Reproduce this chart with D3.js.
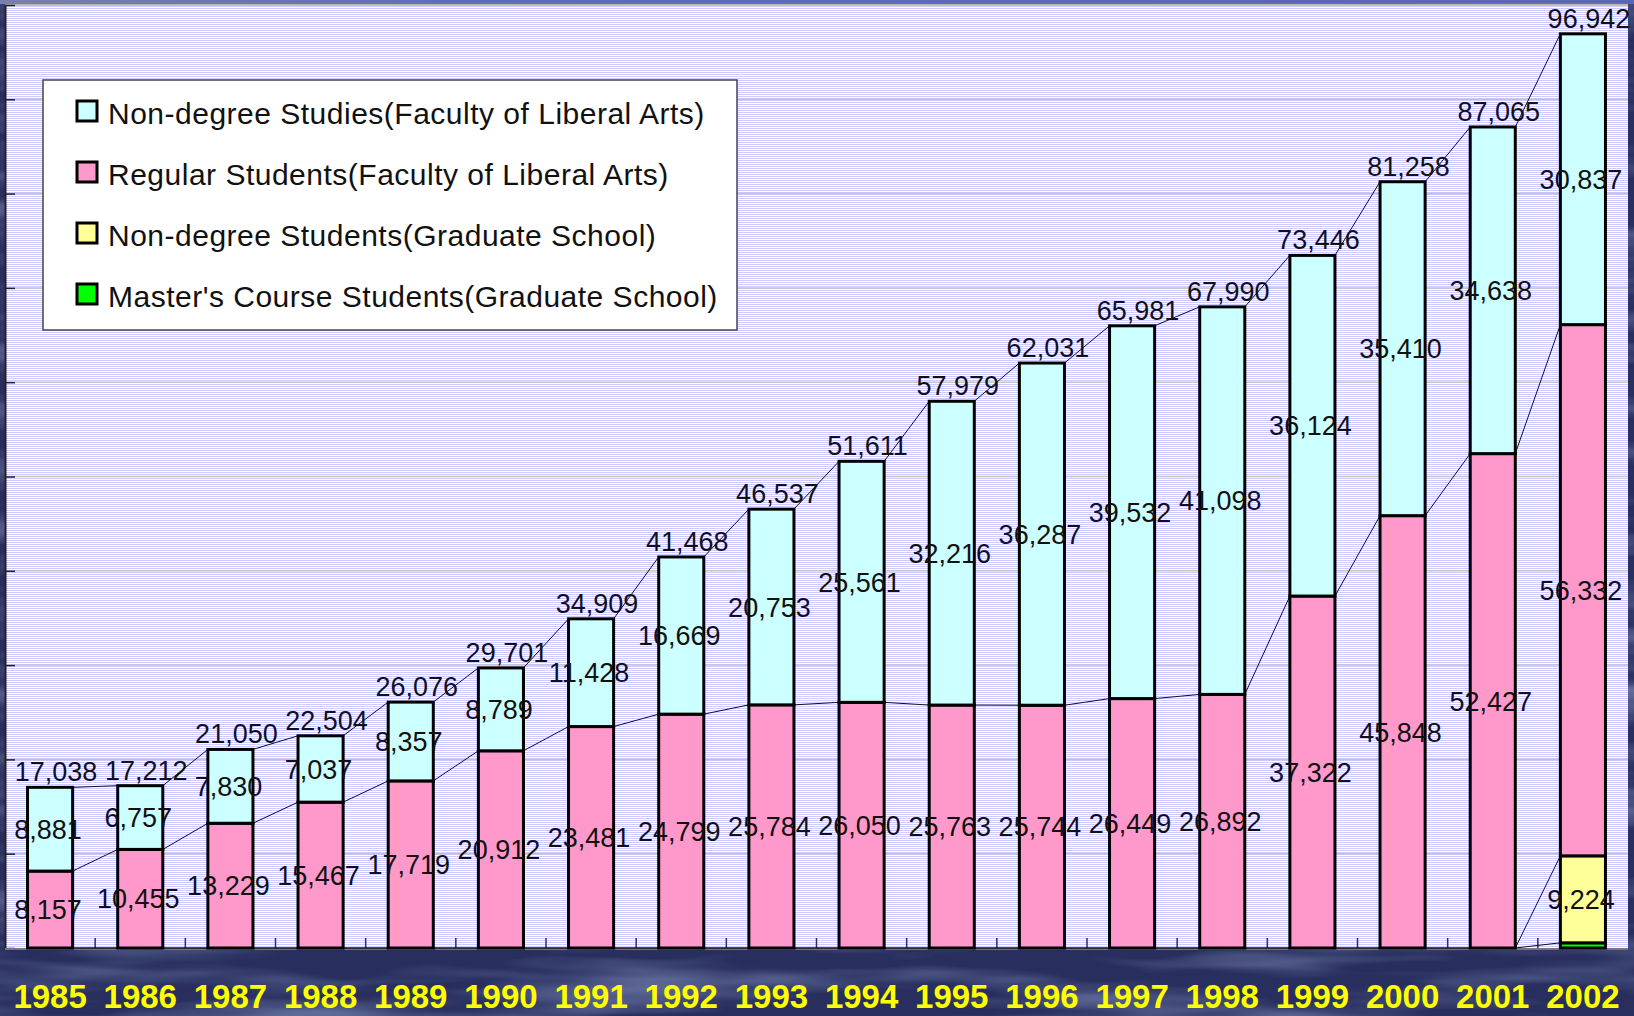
<!DOCTYPE html>
<html>
<head>
<meta charset="utf-8">
<script src="https://cdn.jsdelivr.net/npm/d3@7"></script>
<style>
  html, body { margin: 0; padding: 0; background: #2d3566; }
  #chart svg { display: block; }
</style>
</head>
<body>
<div id="chart"></div>
<div id="error"></div>
<script>
// Data
const years = ["1985", "1986", "1987", "1988", "1989", "1990", "1991", "1992", "1993",
               "1994", "1995", "1996", "1997", "1998", "1999", "2000", "2001", "2002"];
const mastersGrad = [0, 0, 0, 0, 0, 0, 0, 0, 0, 0, 0, 0, 0, 0, 0, 0, 0, 549];
const nonDegreeGrad = [0, 0, 0, 0, 0, 0, 0, 0, 0, 0, 0, 0, 0, 0, 0, 0, 0, 9224];
const regularLiberal = [8157, 10455, 13229, 15467, 17719, 20912, 23481, 24799, 25784,
                        26050, 25763, 25744, 26449, 26892, 37322, 45848, 52427, 56332];
const nonDegreeLiberal = [8881, 6757, 7830, 7037, 8357, 8789, 11428, 16669, 20753,
                          25561, 32216, 36287, 39532, 41098, 36124, 35410, 34638, 30837];
const totalLabels = ["17,038", "17,212", "21,050", "22,504", "26,076", "29,701", "34,909",
                     "41,468", "46,537", "51,611", "57,979", "62,031", "65,981", "67,990",
                     "73,446", "81,258", "87,065", "96,942"];

// stacking order bottom -> top
const seriesKeys = ["masters", "nonDegreeGrad", "regular", "nonDegreeLib"];
const seriesColors = {
    masters: "#00ff00",
    nonDegreeGrad: "#ffff99",
    regular: "#ff99cc",
    nonDegreeLib: "#ccffff"
};
// legend order (top -> bottom)
const legendItems = [
    {key: "nonDegreeLib", label: "Non-degree Studies(Faculty of Liberal Arts)"},
    {key: "regular", label: "Regular Students(Faculty of Liberal Arts)"},
    {key: "nonDegreeGrad", label: "Non-degree Students(Graduate School)"},
    {key: "masters", label: "Master's Course Students(Graduate School)"}
];

document.addEventListener('DOMContentLoaded', function() {
    try {
        if (typeof d3 === 'undefined') throw new Error('D3 library is not loaded');

        const width = 1634, height = 1016;
        const plot = {left: 5, right: 1628, top: 5, bottom: 948};

        const rows = years.map((y, i) => ({
            year: y,
            masters: mastersGrad[i],
            nonDegreeGrad: nonDegreeGrad[i],
            regular: regularLiberal[i],
            nonDegreeLib: nonDegreeLiberal[i],
            total: totalLabels[i]
        }));

        const stacked = d3.stack().keys(seriesKeys)(rows);

        const x = d3.scaleBand()
            .domain(years)
            .range([plot.left, plot.right])
            .paddingInner(0.5)
            .paddingOuter(0.25);

        const y = d3.scaleLinear()
            .domain([0, 100000])
            .range([plot.bottom, plot.top]);

        const svg = d3.select("#chart").append("svg")
            .attr("width", width)
            .attr("height", height);

        const defs = svg.append("defs");

        // striped plot background
        const stripes = defs.append("pattern")
            .attr("id", "stripes")
            .attr("patternUnits", "userSpaceOnUse")
            .attr("width", 8)
            .attr("height", 2);
        stripes.append("rect").attr("width", 8).attr("height", 2).attr("fill", "#ffffff");
        stripes.append("rect").attr("width", 8).attr("height", 1).attr("fill", "#ccccff");

        // watery slide background
        const water = defs.append("filter")
            .attr("id", "water")
            .attr("x", 0).attr("y", 0).attr("width", 1).attr("height", 1);
        water.append("feTurbulence")
            .attr("type", "fractalNoise")
            .attr("baseFrequency", "0.004 0.035")
            .attr("numOctaves", 3)
            .attr("seed", 7);
        water.append("feColorMatrix")
            .attr("type", "matrix")
            .attr("values", "0 0 0 0 0.30  0 0 0 0 0.36  0 0 0 0 0.62  1.2 0 0 0 -0.5");

        const topGrad = defs.append("linearGradient")
            .attr("id", "topband")
            .attr("x1", 0).attr("x2", 1).attr("y1", 0).attr("y2", 0);
        topGrad.append("stop").attr("offset", "0%").attr("stop-color", "#7a7fb0");
        topGrad.append("stop").attr("offset", "30%").attr("stop-color", "#5a6cc0");
        topGrad.append("stop").attr("offset", "100%").attr("stop-color", "#5a66b8");

        svg.append("rect")
            .attr("width", width).attr("height", height)
            .attr("fill", "#282f5e");
        svg.append("rect")
            .attr("width", width).attr("height", height)
            .attr("filter", "url(#water)");
        svg.append("rect")
            .attr("width", width).attr("height", 4)
            .attr("fill", "url(#topband)");

        // plot area
        svg.append("rect")
            .attr("x", plot.left)
            .attr("y", plot.top)
            .attr("width", plot.right - plot.left)
            .attr("height", plot.bottom - plot.top)
            .attr("fill", "url(#stripes)");
        svg.append("line")
            .attr("x1", plot.left).attr("x2", plot.right)
            .attr("y1", plot.top - 0.5).attr("y2", plot.top - 0.5)
            .attr("stroke", "#808080")
            .attr("stroke-width", 2);

        // gridlines
        svg.append("g")
            .selectAll("line")
            .data(y.ticks(10).filter(d => d > 0))
            .enter().append("line")
            .attr("x1", plot.left).attr("x2", plot.right)
            .attr("y1", d => y(d)).attr("y2", d => y(d))
            .attr("stroke", "#c4c4c4")
            .attr("stroke-width", 1.5);

        // y axis: inward ticks, no labels
        const yAxis = svg.append("g")
            .attr("transform", `translate(${plot.left},0)`)
            .call(d3.axisRight(y).ticks(10).tickSize(10).tickSizeOuter(0).tickFormat(""));
        yAxis.select(".domain").attr("stroke", "#222").attr("stroke-width", 2);
        yAxis.selectAll(".tick line").attr("stroke", "#222").attr("stroke-width", 1.5);

        // x axis category boundary ticks
        const step = x.step();
        svg.append("g")
            .selectAll("line")
            .data(years.slice(1))
            .enter().append("line")
            .attr("x1", d => x(d) - step * 0.25)
            .attr("x2", d => x(d) - step * 0.25)
            .attr("y1", plot.bottom)
            .attr("y2", plot.bottom - 10)
            .attr("stroke", "#333")
            .attr("stroke-width", 1.5);
        svg.append("line")
            .attr("x1", plot.left).attr("x2", plot.right)
            .attr("y1", plot.bottom + 1).attr("y2", plot.bottom + 1)
            .attr("stroke", "#777")
            .attr("stroke-width", 2);

        // series lines between neighbouring bars
        const bw = x.bandwidth();
        const seriesLines = svg.append("g");
        stacked.forEach(layer => {
            for (let i = 0; i < layer.length - 1; i++) {
                seriesLines.append("line")
                    .attr("x1", x(years[i]) + bw)
                    .attr("y1", y(layer[i][1]))
                    .attr("x2", x(years[i + 1]))
                    .attr("y2", y(layer[i + 1][1]))
                    .attr("stroke", "#111")
                    .attr("stroke-width", 1);
            }
        });

        // stacked bars
        const layers = svg.append("g")
            .selectAll("g")
            .data(stacked)
            .enter().append("g")
            .attr("fill", d => seriesColors[d.key]);

        layers.selectAll("rect")
            .data(d => d.filter(s => s[1] - s[0] > 0))
            .enter().append("rect")
            .attr("x", d => x(d.data.year))
            .attr("y", d => y(d[1]))
            .attr("width", bw)
            .attr("height", d => y(d[0]) - y(d[1]))
            .attr("stroke", "#000")
            .attr("stroke-width", 3);

        const labelFont = "'Liberation Sans', Arial, sans-serif";

        // segment value labels (the tiny master's segment carries none)
        const fmt = d3.format(",");
        stacked.filter(l => l.key !== "masters").forEach(layer => {
            svg.append("g")
                .selectAll("text")
                .data(layer.filter(s => s[1] - s[0] > 0))
                .enter().append("text")
                .attr("x", d => x(d.data.year) + bw / 2 - 2)
                .attr("y", d => (y(d[0]) + y(d[1])) / 2)
                .attr("dy", "0.36em")
                .attr("text-anchor", "middle")
                .attr("font-family", labelFont)
                .attr("font-size", "27px")
                .attr("fill", "#111")
                .text(d => fmt(d[1] - d[0]));
        });

        // total labels above bars
        const topLayer = stacked[stacked.length - 1];
        svg.append("g")
            .selectAll("text")
            .data(topLayer)
            .enter().append("text")
            .attr("x", d => x(d.data.year) + bw / 2 + 6)
            .attr("y", d => y(d[1]) - 6)
            .attr("text-anchor", "middle")
            .attr("font-family", labelFont)
            .attr("font-size", "27px")
            .attr("fill", "#111")
            .text(d => d.data.total);

        // year labels
        const xAxis = svg.append("g")
            .attr("transform", `translate(0,${plot.bottom})`)
            .call(d3.axisBottom(x).tickSize(0).tickPadding(37));
        xAxis.select(".domain").remove();
        xAxis.selectAll("text")
            .attr("font-family", labelFont)
            .attr("font-size", "33px")
            .attr("font-weight", "bold")
            .attr("fill", "#ffff00");

        // legend
        const legend = svg.append("g");
        legend.append("rect")
            .attr("x", 43).attr("y", 80)
            .attr("width", 694).attr("height", 250)
            .attr("fill", "#fff")
            .attr("stroke", "#444")
            .attr("stroke-width", 1.5);

        const item = legend.selectAll(".item")
            .data(legendItems)
            .enter().append("g")
            .attr("class", "item")
            .attr("transform", (d, i) => `translate(77,${101 + i * 61})`);

        item.append("rect")
            .attr("width", 20).attr("height", 20)
            .attr("fill", d => seriesColors[d.key])
            .attr("stroke", "#000")
            .attr("stroke-width", 3);

        item.append("text")
            .attr("x", 31)
            .attr("y", 23)
            .attr("font-family", labelFont)
            .attr("font-size", "30px")
            .attr("letter-spacing", "0.5px")
            .attr("fill", "#111")
            .text(d => d.label);

    } catch (error) {
        console.error('Error:', error);
        document.getElementById('error').textContent = 'Error: ' + error.message;
    }
});
</script>
</body>
</html>
